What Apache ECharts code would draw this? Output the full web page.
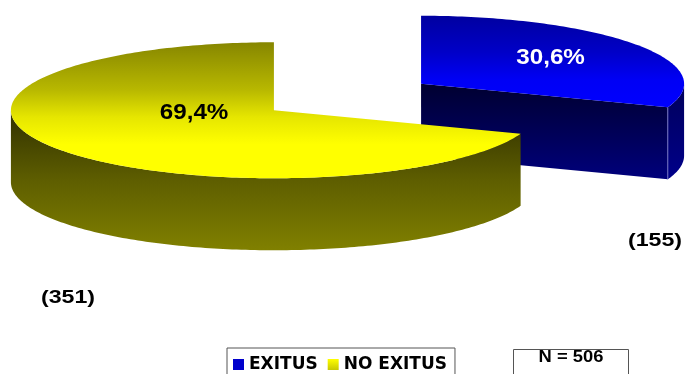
<!DOCTYPE html>
<html>
<head>
<meta charset="utf-8">
<script src="https://cdn.jsdelivr.net/npm/echarts@6/dist/echarts.min.js"></script>
<style>
html,body{margin:0;padding:0;background:#fff;}
#chart{width:686px;height:374px;}
</style>
</head>
<body>
<div id="chart"></div>
<script>
// ---- data ----
const categories = ['EXITUS', 'NO EXITUS'];
const values = [155, 351];
const total = values.reduce((a, b) => a + b, 0);

// ---- geometry / styling ----
const CX = 347.5, CY = 97, RX = 263, RY = 68, DEPTH = 72, EXPLODE = 0.341;
const FONT = '"Liberation Sans", Arial, sans-serif';

function lg(stops) {
  return { type: 'linear', x: 0, y: 0, x2: 0, y2: 1,
    colorStops: stops.map(s => ({ offset: s[0], color: s[1] })) };
}
const sliceStyles = [
  { top: lg([[0, '#0000a0'], [0.4, '#0000c8'], [0.7, '#0000f5'], [1, '#0000ff']]),
    side: lg([[0, '#00005a'], [1, '#00008a']]),
    cut: lg([[0, '#000030'], [1, '#00007c']]),
    edge: '#7474c4', labelColor: '#ffffff', labelF: 0.6, labelDy: -2 },
  { top: lg([[0, '#868600'], [0.35, '#b8b800'], [0.55, '#e6e600'], [0.75, '#ffff00'], [1, '#ffff00']]),
    side: lg([[0, '#303000'], [0.5, '#5e5e00'], [1, '#808000']]),
    cut: lg([[0, '#303000'], [1, '#808000']]),
    edge: null, labelColor: '#000000', labelF: 0.37, labelDy: -12 }
];
const legendColors = ['#0000cc', lg([[0, '#ffff00'], [1, '#c8c800']])];

function pt(cx, cy, deg, dy) {
  const r = deg * Math.PI / 180;
  return [cx + RX * Math.sin(r), cy - RY * Math.cos(r) + (dy || 0)];
}
function arc(cx, cy, a, b, dy) {
  const pts = [];
  const n = Math.max(2, Math.ceil(Math.abs(b - a)));
  for (let k = 0; k <= n; k++) pts.push(pt(cx, cy, a + (b - a) * k / n, dy));
  return pts;
}
function pctText(v) {
  return (v / total * 100).toFixed(1).replace('.', ',') + '%';
}

function makeRender(i) {
  return function (params, api) {
    const v = api.value(0);
    let start = 0;
    for (let k = 0; k < i; k++) start += values[k];
    const a0 = start / total * 360, a1 = (start + v) / total * 360;
    const mid = (a0 + a1) / 2, mr = mid * Math.PI / 180;
    const cx = CX + EXPLODE * RX * Math.sin(mr);
    const cy = CY - EXPLODE * RY * Math.cos(mr);
    const st = sliceStyles[i];
    const children = [];
    // cut faces
    [[a0, a0 - 90], [a1, a1 + 90]].forEach(([a, n]) => {
      if (Math.cos(n * Math.PI / 180) < -1e-6) {
        const p = pt(cx, cy, a);
        children.push({ type: 'polygon', shape: { points: [[cx, cy], p, [p[0], p[1] + DEPTH], [cx, cy + DEPTH]] },
          style: { fill: st.cut } });
      }
    });
    // curved outer side (front half only)
    const s = Math.max(a0, 90), e = Math.min(a1, 270);
    if (e > s) {
      const pts = arc(cx, cy, s, e, 0).concat(arc(cx, cy, e, s, DEPTH));
      children.push({ type: 'polygon', shape: { points: pts }, style: { fill: st.side } });
      if (st.edge && Math.abs(e - a1) < 1e-6) {
        const p = pt(cx, cy, a1);
        children.push({ type: 'line', shape: { x1: p[0], y1: p[1], x2: p[0], y2: p[1] + DEPTH },
          style: { stroke: st.edge, lineWidth: 1 } });
      }
    }
    // top face
    children.push({ type: 'polygon', shape: { points: [[cx, cy]].concat(arc(cx, cy, a0, a1, 0)) },
      style: { fill: st.top } });
    // percentage label
    const lp = pt(cx, cy, mid);
    children.push({ type: 'text',
      x: cx + (lp[0] - cx) * st.labelF, y: cy + (lp[1] - cy) * st.labelF + st.labelDy,
      scaleX: 1.1,
      style: { text: pctText(v), fill: st.labelColor, font: 'bold 22px ' + FONT,
        align: 'center', verticalAlign: 'middle' } });
    return { type: 'group', children };
  };
}

const chart = echarts.init(document.getElementById('chart'), null, { renderer: 'canvas' });
chart.setOption({
  animation: false,
  backgroundColor: '#ffffff',
  legend: {
    left: 227, top: 348,
    orient: 'horizontal',
    padding: [8, 8, 10, 6],
    borderColor: '#555555', borderWidth: 1,
    itemWidth: 11, itemHeight: 11, itemGap: 10, itemTextGap: 6,
    icon: 'rect',
    selectedMode: false,
    textStyle: { color: '#000', fontWeight: 'bold', fontSize: 17, fontFamily: '"DejaVu Sans", sans-serif' },
    data: categories.map((c, i) => ({ name: c, itemStyle: { color: legendColors[i] } }))
  },
  series: categories.map((c, i) => ({
    type: 'custom',
    name: c,
    coordinateSystem: 'none',
    silent: true,
    itemStyle: { color: legendColors[i] },
    renderItem: makeRender(i),
    data: [[values[i]]]
  })),
  graphic: [
    { type: 'text', x: 655, y: 241, scaleX: 1.22, style: { text: '(' + values[0] + ')', font: 'bold 19px ' + FONT, fill: '#000', align: 'center', verticalAlign: 'middle' } },
    { type: 'text', x: 68, y: 298, scaleX: 1.22, style: { text: '(' + values[1] + ')', font: 'bold 19px ' + FONT, fill: '#000', align: 'center', verticalAlign: 'middle' } },
    { type: 'rect', shape: { x: 513.5, y: 349.5, width: 115, height: 40 }, style: { fill: '#fff', stroke: '#555555', lineWidth: 1 } },
    { type: 'text', x: 571, y: 357, scaleX: 1.08, style: { text: 'N = ' + total, font: 'bold 17px ' + FONT, fill: '#000', align: 'center', verticalAlign: 'middle' } }
  ]
});
</script>
</body>
</html>
